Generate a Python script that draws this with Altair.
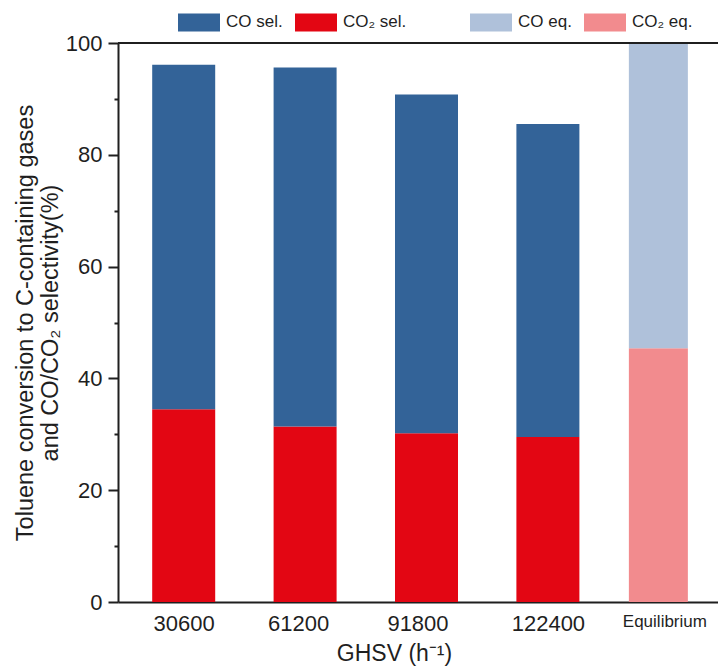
import altair as alt
import pandas as pd

# GHSV runs (h^-1): toluene conversion to C-containing gases and the CO2 share of it
ghsv_labels = ["30600", "61200", "91800", "122400"]
conversion = [96.1, 95.6, 90.8, 85.5]
co2_sel = [34.5, 31.4, 30.2, 29.5]

# thermodynamic equilibrium reference
eq_label = "Equilibrium"
eq_total = 100.0
eq_co2 = 45.4

sel_names = ["CO sel.", "CO₂ sel."]
eq_names = ["CO eq.", "CO₂ eq."]
sel_colors = ["#336398", "#E30613"]
eq_colors = ["#AFC1DA", "#F28B8E"]

FONT = "Liberation Sans"
INK = "#1f1f1f"
EQ_GAP = 0.91  # extra spacing before the equilibrium bar, in category units

positions = [i + 1 for i in range(len(ghsv_labels))]
eq_pos = positions[-1] + EQ_GAP

sel_rows = []
for p, lab, tot, c2 in zip(positions, ghsv_labels, conversion, co2_sel):
    sel_rows.append({"pos": p, "label": lab, "species": sel_names[1], "lo": 0.0, "hi": c2})
    sel_rows.append({"pos": p, "label": lab, "species": sel_names[0], "lo": c2, "hi": tot})
sel_df = pd.DataFrame(sel_rows)

eq_df = pd.DataFrame([
    {"pos": eq_pos, "label": eq_label, "species": eq_names[1], "lo": 0.0, "hi": eq_co2},
    {"pos": eq_pos, "label": eq_label, "species": eq_names[0], "lo": eq_co2, "hi": eq_total},
])

tick_pos = positions + [eq_pos]
tick_lab = ghsv_labels + [eq_label]
label_expr = "''"
for p, lab in reversed(list(zip(tick_pos, tick_lab))):
    label_expr = f"abs(datum.value - {p}) < 0.01 ? '{lab}' : ({label_expr})"

# small horizontal nudges of individual tick labels
label_nudge = [0, -7, -9, 0, 6]
offset_cond = [
    {"test": f"abs(datum.value - {p}) < 0.01", "value": n}
    for p, n in zip(tick_pos, label_nudge) if n != 0
]

x_scale = alt.Scale(domain=[0.5, 5.36], nice=False, zero=False)
y_scale = alt.Scale(domain=[0, 100], nice=False)

x_axis = alt.Axis(
    values=tick_pos,
    labelExpr=label_expr,
    ticks=False,
    grid=False,
    domainColor=INK,
    domainWidth=2,
    labelFont=FONT,
    labelColor=INK,
    labelFontSize={"condition": {"test": f"datum.value > {positions[-1] + 0.5}", "value": 17}, "value": 22},
    labelOffset={"condition": offset_cond, "value": 0},
    labelPadding=11,
    labelFlush=False,
    labelOverlap=False,
    title="GHSV (h⁻¹)",
    titleFont=FONT,
    titleFontSize=23,
    titleFontWeight="normal",
    titleColor=INK,
    titlePadding=8,
    titleX=276,
)

y_axis = alt.Axis(
    values=list(range(0, 101, 10)),
    labelExpr="datum.value % 20 == 0 ? datum.label : ''",
    tickSize={"condition": {"test": "datum.value % 20 == 0", "value": 10}, "value": 4},
    tickColor=INK,
    tickWidth=2,
    grid=False,
    domainColor=INK,
    domainWidth=2,
    labelFont=FONT,
    labelColor=INK,
    labelFontSize=22,
    labelPadding=6,
    labelFlush=False,
    title=["Toluene conversion to C-containing gases", "and CO/CO₂ selectivity(%)"],
    titleFont=FONT,
    titleFontSize=23.5,
    titleFontWeight="normal",
    titleColor=INK,
    titleLineHeight=25,
    titlePadding=3,
)

swatch = "M-1,-0.43H1V0.43H-1Z"


def legend_at(x):
    return alt.Legend(
        orient="none",
        legendX=x,
        legendY=-42,
        direction="horizontal",
        title=None,
        symbolType=swatch,
        symbolSize=1764,
        symbolStrokeWidth=0,
        symbolOpacity=1,
        labelFont=FONT,
        labelFontSize=17,
        labelColor=INK,
        labelOffset=6,
        columnPadding=12,
    )


sel_bars = alt.Chart(sel_df).mark_bar(size=63, opacity=1).encode(
    x=alt.X("pos:Q", scale=x_scale, axis=x_axis),
    y=alt.Y("hi:Q", scale=y_scale, axis=y_axis),
    y2="lo:Q",
    color=alt.Color("species:N", scale=alt.Scale(domain=sel_names, range=sel_colors), legend=legend_at(60)),
)

eq_bars = alt.Chart(eq_df).mark_bar(size=59, opacity=1).encode(
    x=alt.X("pos:Q", scale=x_scale),
    y=alt.Y("hi:Q", scale=y_scale),
    y2="lo:Q",
    color=alt.Color("species:N", scale=alt.Scale(domain=eq_names, range=eq_colors), legend=legend_at(352)),
)

# top frame line at the 100 % level
frame_top = alt.Chart(pd.DataFrame({"top": [100]})).mark_rule(color=INK, strokeWidth=2).encode(
    y=alt.Y("top:Q", scale=y_scale)
)

chart = (
    alt.layer(sel_bars, eq_bars, frame_top)
    .resolve_scale(color="independent")
    .properties(
        width=600,
        height=559,
        autosize=alt.AutoSizeParams(type="none"),
        padding={"left": 118, "top": 43, "right": 0, "bottom": 67},
        background="white",
    )
    .configure_view(stroke=None)
)

chart.save("out.html", embed_options={"renderer": "svg", "actions": False})
